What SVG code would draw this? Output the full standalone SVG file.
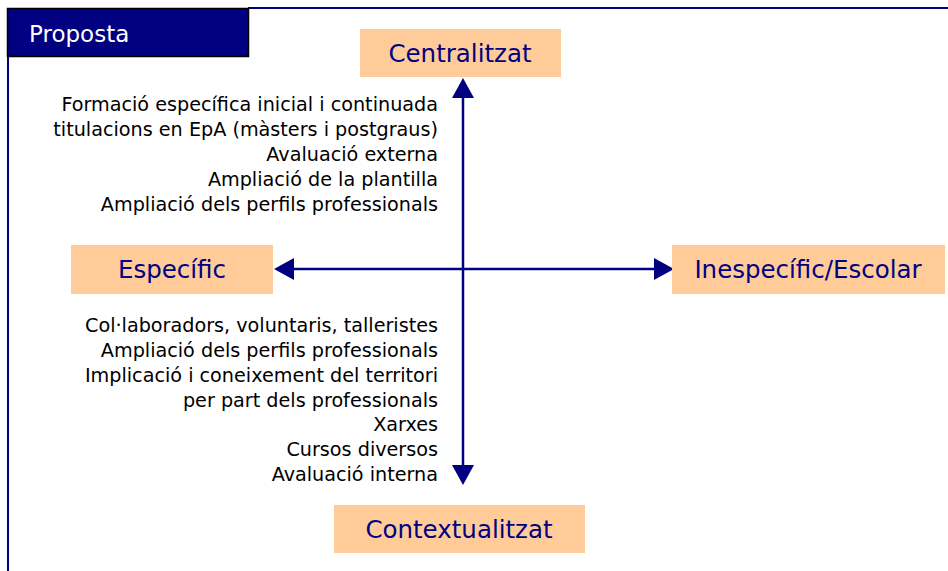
<svg xmlns="http://www.w3.org/2000/svg" width="948" height="571" viewBox="0 0 948 571">
<defs>
<style>
.box{fill:#FFCC99;}
.lbl{font-family:"DejaVu Sans",Verdana,sans-serif;font-size:24.5px;fill:#000080;text-anchor:middle;}
.txt{font-family:"DejaVu Sans",Verdana,sans-serif;font-size:19.2px;fill:#000;text-anchor:end;}
.ax{stroke:#000080;stroke-width:2.5;fill:none;}
.hd{fill:#000080;}
</style>
</defs>
<rect width="948" height="571" fill="#fff"/>
<g id="frame">
<line x1="248" y1="8" x2="948" y2="8" stroke="#000080" stroke-width="2"/>
<line x1="8" y1="57" x2="8" y2="571" stroke="#000080" stroke-width="2"/>
</g>
<g id="title">
<rect x="7.5" y="8.5" width="241" height="48" fill="#000080" stroke="#000" stroke-width="1.5"/>
<text x="29" y="42" font-family="DejaVu Sans,Verdana,sans-serif" font-size="23" fill="#fff">Proposta</text>
</g>
<g id="connectors">
<line class="ax" x1="463" y1="98" x2="463" y2="465"/>
<path class="hd" d="M463,78 L452,98 L474,98 Z"/>
<path class="hd" d="M463,485 L452,465 L474,465 Z"/>
<line class="ax" x1="294" y1="269" x2="654" y2="269"/>
<path class="hd" d="M274,269 L294,258 L294,280 Z"/>
<path class="hd" d="M674,269 L654,258 L654,280 Z"/>
</g>
<g id="centralitzat">
<rect class="box" x="360" y="29" width="201" height="48"/>
<text class="lbl" x="460" y="62">Centralitzat</text>
</g>
<g id="especific">
<rect class="box" x="71" y="245" width="202" height="49"/>
<text class="lbl" x="172" y="278">Específic</text>
</g>
<g id="inespecific">
<rect class="box" x="672" y="245" width="273" height="49"/>
<text class="lbl" x="808" y="278">Inespecífic/Escolar</text>
</g>
<g id="contextualitzat">
<rect class="box" x="334" y="505" width="251" height="48"/>
<text class="lbl" x="459" y="538">Contextualitzat</text>
</g>
<g id="top-text">
<text class="txt" x="438" y="111">Formació específica inicial i continuada</text>
<text class="txt" x="438" y="136">titulacions en EpA (màsters i postgraus)</text>
<text class="txt" x="438" y="161">Avaluació externa</text>
<text class="txt" x="438" y="186">Ampliació de la plantilla</text>
<text class="txt" x="438" y="211">Ampliació dels perfils professionals</text>
</g>
<g id="bottom-text">
<text class="txt" x="438" y="332">Col·laboradors, voluntaris, talleristes</text>
<text class="txt" x="438" y="357">Ampliació dels perfils professionals</text>
<text class="txt" x="438" y="382">Implicació i coneixement del territori</text>
<text class="txt" x="438" y="407">per part dels professionals</text>
<text class="txt" x="438" y="431">Xarxes</text>
<text class="txt" x="438" y="456">Cursos diversos</text>
<text class="txt" x="438" y="481">Avaluació interna</text>
</g>
</svg>
